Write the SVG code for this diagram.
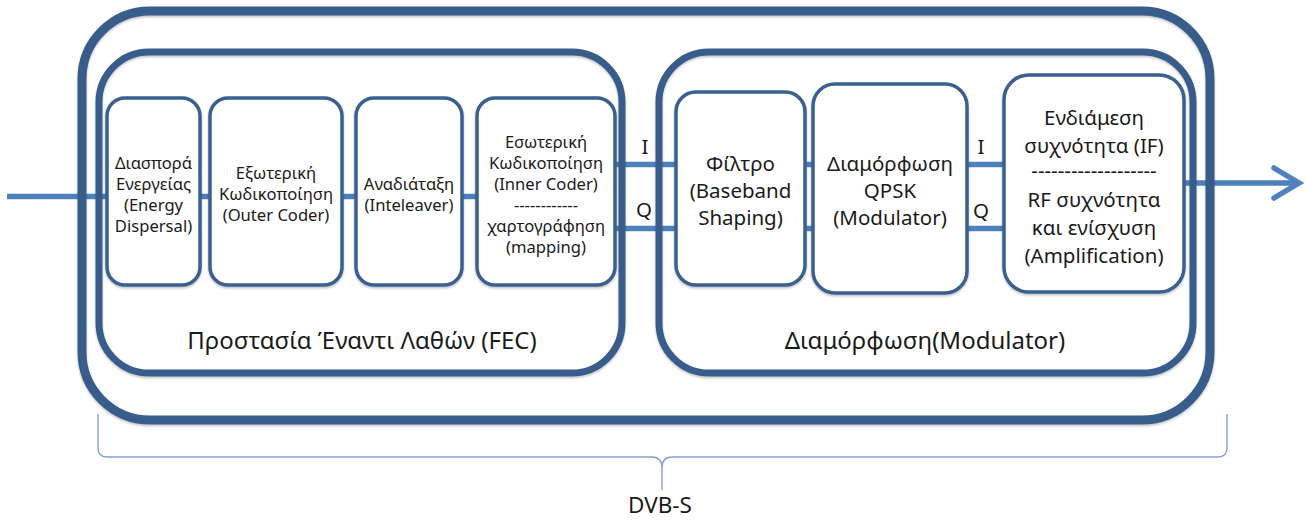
<svg xmlns="http://www.w3.org/2000/svg" width="1306" height="520" viewBox="0 0 1306 520">
  <defs>
    <style>
      .frame { fill: none; stroke: #385D8A; }
      .outer { stroke-width: 9; }
      .stage { stroke-width: 7; }
      .block { fill: #FFFFFF; stroke: #3A5F8E; stroke-width: 3.5; }
      .link { fill: none; stroke: #4F81BD; stroke-width: 5.5; }
      .brace { fill: none; stroke: #7FA2D3; stroke-width: 1.4; }
      text { font-family: "Noto Sans", "Open Sans", sans-serif; fill: #1A1A1A; text-anchor: middle; }
      .s { font-size: 16.6px; }
      .m { font-size: 20.5px; }
      .l { font-size: 24px; }
    </style>
    <filter id="shade" x="-5%" y="-5%" width="110%" height="115%">
      <feDropShadow dx="0" dy="1.5" stdDeviation="1" flood-color="#000000" flood-opacity="0.25"/>
    </filter>
    <marker id="arrow" markerUnits="userSpaceOnUse" markerWidth="40" markerHeight="40" refX="0" refY="0" viewBox="-30 -20 40 40" orient="auto" overflow="visible">
      <path d="M-25,-15 L0,0 L-25,15" fill="none" stroke="#4F81BD" stroke-width="5.5" stroke-linecap="round"/>
    </marker>
  </defs>

  <rect width="1306" height="520" fill="#FFFFFF"/>

  <!-- signal paths -->
  <g id="connectors">
    <line class="link" x1="7" y1="196.5" x2="107" y2="196.5"/>
    <line class="link" x1="200" y1="196.5" x2="210" y2="196.5"/>
    <line class="link" x1="342" y1="196.5" x2="356" y2="196.5"/>
    <line class="link" x1="462" y1="196.5" x2="477" y2="196.5"/>
    <line class="link" x1="615" y1="164.5" x2="676" y2="164.5"/>
    <line class="link" x1="615" y1="228.5" x2="676" y2="228.5"/>
    <line class="link" x1="805" y1="164.5" x2="813" y2="164.5"/>
    <line class="link" x1="805" y1="228.5" x2="813" y2="228.5"/>
    <line class="link" x1="967" y1="164.5" x2="1004" y2="164.5"/>
    <line class="link" x1="967" y1="228.5" x2="1004" y2="228.5"/>
    <line class="link" x1="1184" y1="183" x2="1299" y2="183" marker-end="url(#arrow)"/>
  </g>

  <!-- DVB-S system frame -->
  <g id="dvbs">
    <rect class="frame outer" x="82" y="11" width="1128" height="409" rx="68" filter="url(#shade)"/>
  </g>

  <!-- forward error correction stage -->
  <g id="fec">
    <rect class="frame stage" x="99" y="52" width="523" height="321" rx="50" filter="url(#shade)"/>
    <text class="l" x="362" y="348.5">Προστασία Έναντι Λαθών (FEC)</text>
  </g>

  <!-- modulation stage -->
  <g id="modulator">
    <rect class="frame stage" x="659" y="52" width="534" height="321" rx="50" filter="url(#shade)"/>
    <text class="l" x="925" y="348.5">Διαμόρφωση(Modulator)</text>
  </g>

  <g id="energy-dispersal">
    <rect class="block" x="107" y="98" width="93" height="187" rx="18" filter="url(#shade)"/>
    <text class="s" x="153.5" y="169">Διασπορά</text>
    <text class="s" x="153.5" y="190">Ενεργείας</text>
    <text class="s" x="153.5" y="211">(Energy</text>
    <text class="s" x="153.5" y="232">Dispersal)</text>
  </g>

  <g id="outer-coder">
    <rect class="block" x="210" y="98" width="132" height="187" rx="18" filter="url(#shade)"/>
    <text class="s" x="276" y="179">Εξωτερική</text>
    <text class="s" x="276" y="200">Κωδικοποίηση</text>
    <text class="s" x="276" y="221">(Outer Coder)</text>
  </g>

  <g id="interleaver">
    <rect class="block" x="356" y="98" width="106" height="187" rx="18" filter="url(#shade)"/>
    <text class="s" x="409" y="190">Αναδιάταξη</text>
    <text class="s" x="409" y="211">(Inteleaver)</text>
  </g>

  <g id="inner-coder">
    <rect class="block" x="477" y="98" width="138" height="187" rx="18" filter="url(#shade)"/>
    <text class="s" x="546" y="148">Εσωτερική</text>
    <text class="s" x="546" y="169">Κωδικοποίηση</text>
    <text class="s" x="546" y="190">(Inner Coder)</text>
    <text class="s" x="546" y="211">------------</text>
    <text class="s" x="546" y="232">χαρτογράφηση</text>
    <text class="s" x="546" y="253">(mapping)</text>
  </g>

  <g id="baseband-filter">
    <rect class="block" x="676" y="92" width="129" height="193" rx="20" filter="url(#shade)"/>
    <text class="m" x="740.5" y="170.5">Φίλτρο</text>
    <text class="m" x="740.5" y="197.5">(Baseband</text>
    <text class="m" x="740.5" y="224.5">Shaping)</text>
  </g>

  <g id="qpsk">
    <rect class="block" x="813" y="84" width="154" height="209" rx="22" filter="url(#shade)"/>
    <text class="m" x="890" y="170.5">Διαμόρφωση</text>
    <text class="m" x="890" y="197.5">QPSK</text>
    <text class="m" x="890" y="224.5">(Modulator)</text>
  </g>

  <g id="if-rf">
    <rect class="block" x="1004" y="75" width="180" height="217" rx="25" filter="url(#shade)"/>
    <text class="m" x="1094" y="124.5">Ενδιάμεση</text>
    <text class="m" x="1094" y="152.5">συχνότητα (IF)</text>
    <text class="m" x="1094" y="178">-------------------</text>
    <text class="m" x="1094" y="206.5">RF συχνότητα</text>
    <text class="m" x="1094" y="234.5">και ενίσχυση</text>
    <text class="m" x="1094" y="262.5">(Amplification)</text>
  </g>

  <!-- I/Q channel labels -->
  <g id="iq-labels">
    <text class="m" x="645" y="154">I</text>
    <text class="m" x="644" y="217">Q</text>
    <text class="m" x="981" y="154">I</text>
    <text class="m" x="981" y="218">Q</text>
  </g>

  <!-- brace spanning the whole system -->
  <g id="dvbs-brace">
    <path class="brace" d="M98,414 L98,448 Q98,457 107,457 L652,457 Q662,457 662,468 L662,490 M662,468 Q662,457 672,457 L1218,457 Q1227,457 1227,448 L1227,414"/>
    <text class="l" x="660" y="513" style="font-size:22.5px">DVB-S</text>
  </g>
</svg>
